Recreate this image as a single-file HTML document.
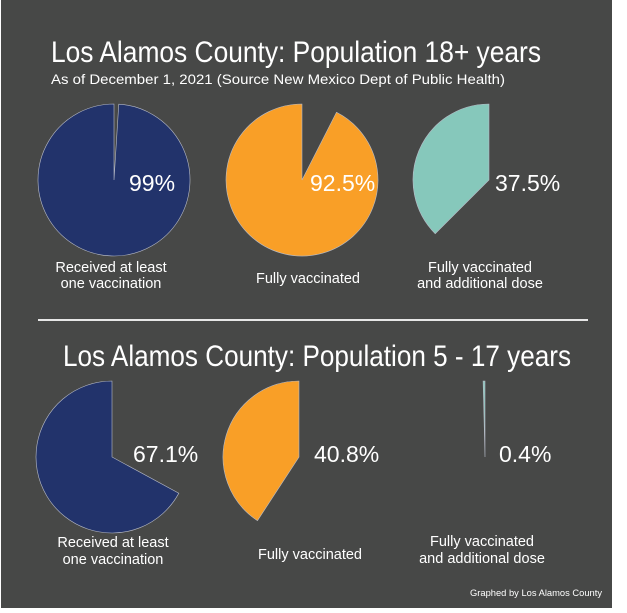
<!DOCTYPE html>
<html><head><meta charset="utf-8"><style>
html,body{margin:0;padding:0;background:#fff;}
svg{display:block;}
text{font-family:"Liberation Sans",sans-serif;fill:#fff;}
</style></head><body>
<svg id="chart" width="627" height="613" viewBox="0 0 627 613" xmlns="http://www.w3.org/2000/svg">
<rect x="1" y="0" width="611" height="608" fill="#474847"/>
<text x="51" y="62" font-size="30" textLength="490" lengthAdjust="spacingAndGlyphs">Los Alamos County: Population 18+ years</text>
<text x="51" y="84" font-size="14" textLength="454" lengthAdjust="spacingAndGlyphs">As of December 1, 2021 (Source New Mexico Dept of Public Health)</text>
<line x1="38" y1="320" x2="588" y2="320" stroke="#e6e6e6" stroke-width="2"/>
<text x="63" y="366" font-size="30" textLength="508" lengthAdjust="spacingAndGlyphs">Los Alamos County: Population 5 - 17 years</text>
<text x="602" y="596" font-size="9.5" text-anchor="end" textLength="132" lengthAdjust="spacingAndGlyphs">Graphed by Los Alamos County</text>
<g id="pies"></g>
</svg>
<script>
const categories = ["Received at least|one vaccination", "Fully vaccinated", "Fully vaccinated|and additional dose"];
const adultValues = [99, 92.5, 37.5];
const youthValues = [67.1, 40.8, 0.4];
const valueLabels = ["99%", "92.5%", "37.5%", "67.1%", "40.8%", "0.4%"];
const colors = ["#22336b", "#f99f27", "#86c8bb"];

const NS = "http://www.w3.org/2000/svg";
const g = document.getElementById("pies");
const rows = [
  {vals: adultValues, cy: 180, cxs: [114, 302, 489], r: 76, labelY: 191, lblX: [129, 310, 495], catY: [[272, 288], [283], [272, 288]], catX: [111, 308, 480], name: "adult"},
  {vals: youthValues, cy: 457, cxs: [112, 299, 485], r: 76, labelY: 462, lblX: [133, 314, 499], catY: [[547, 564], [559], [546, 563]], catX: [113, 310, 482], name: "youth"}
];
function angle(v) { return v / 100 * 2 * Math.PI; }
rows.forEach((row, ri) => {
  row.vals.forEach((v, i) => {
    const cx = row.cxs[i], cy = row.cy, r = row.r;
    const a = angle(v);
    const ex = cx - r * Math.sin(a), ey = cy - r * Math.cos(a);
    const large = v > 50 ? 1 : 0;
    const p = document.createElementNS(NS, "path");
    p.setAttribute("d", `M${cx},${cy} L${cx},${cy - r} A${r},${r} 0 ${large} 0 ${ex.toFixed(2)},${ey.toFixed(2)} Z`);
    p.setAttribute("fill", colors[i]);
    p.setAttribute("stroke", "#b8bcc8");
    p.setAttribute("stroke-width", "0.6");
    
    
    g.appendChild(p);
    const t = document.createElementNS(NS, "text");
    t.setAttribute("x", row.lblX[i]);
    t.setAttribute("y", row.labelY);
    t.setAttribute("font-size", "23");
    t.textContent = valueLabels[ri * 3 + i];
    
    
    g.appendChild(t);
    const lines = categories[i].split("|");
    lines.forEach((ln, li) => {
      const c = document.createElementNS(NS, "text");
      c.setAttribute("x", row.catX[i]);
      c.setAttribute("y", row.catY[i][li]);
      c.setAttribute("font-size", "14.5");
      c.setAttribute("text-anchor", "middle");
      c.textContent = ln;
      
      
      g.appendChild(c);
    });
  });
});
</script>
</body></html>
